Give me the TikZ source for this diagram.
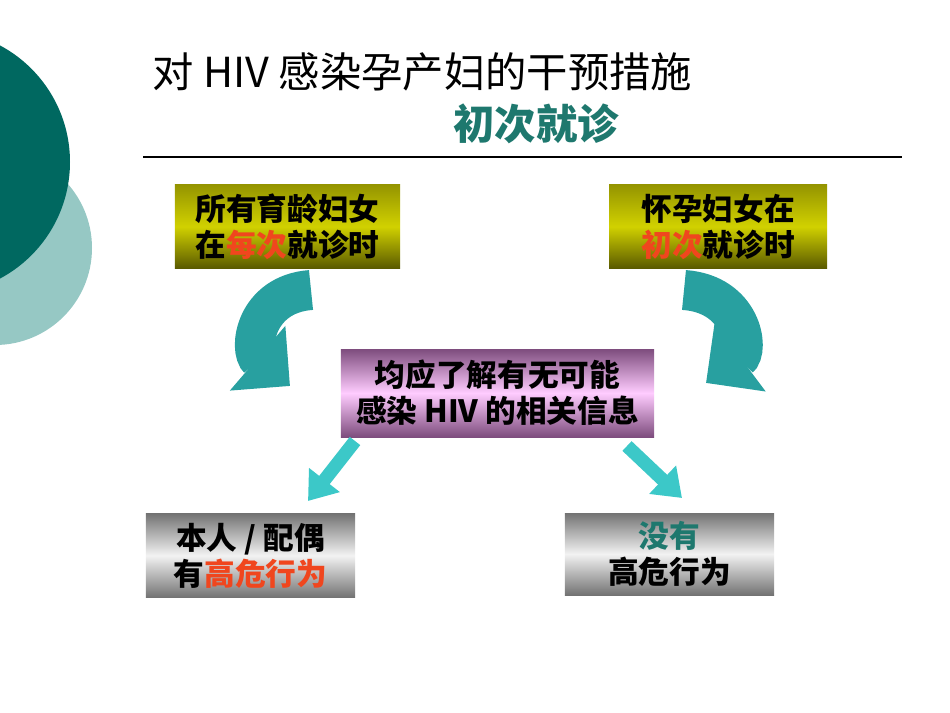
\documentclass[tikz,border=0pt]{standalone}
\usepackage{fontspec}
\setmainfont{Liberation Sans}
\newfontfamily\cjk{Noto Sans CJK SC}
\usetikzlibrary{arrows.meta}
\definecolor{darkteal}{RGB}{0,104,96}
\definecolor{lightteal}{RGB}{150,200,196}
\definecolor{headteal}{RGB}{30,120,110}
\definecolor{arrowcyan}{RGB}{60,200,200}
\definecolor{arrowdark}{RGB}{40,160,160}
\definecolor{hired}{RGB}{240,70,30}
\tikzset{every picture/.style={line width=0.75pt}}
\tikzset{
  box/.style={minimum width=#1, minimum height=63pt, inner sep=0pt, align=center,
    font=\cjk\bfseries\fontsize{23}{27}\selectfont},
  olivebox/.style={box=169pt, top color=olive!55!yellow!80!black, bottom color=olive!70!black, middle color=yellow!60!olive!90!white},
  pinkbox/.style={box=235pt, top color=violet!55!black!70, bottom color=violet!55!black!70, middle color=magenta!20!white},
  graybox/.style={box=157pt, top color=black!55, bottom color=black!55, middle color=white!95!black},
  curvearrow/.style={line width=30pt, arrowdark, -{Triangle[width=62pt,length=32pt]}},
  straight/.style={line width=10pt, arrowcyan, -{Triangle[width=28pt,length=20pt]}}
}
\begin{document}
\begin{tikzpicture}[x=0.75pt,y=0.75pt,yscale=-1,xscale=1]
	\useasboundingbox (0,0) rectangle (950,713);

	%left decoration
	\fill [lightteal] (-5,248) circle (97);
	\fill [darkteal] (-62,162) circle (132);

	%title
	\node [anchor=west, font=\cjk\fontsize{31}{34}\selectfont] (title) at (148,72) {对 HIV 感染孕产妇的干预措施};
	\node [font=\cjk\bfseries\fontsize{31}{34}\selectfont, text=headteal] (sub) at (536,124) {初次就诊};
	\draw [line width=0.8pt] (143,157) -- (902,157);

	%boxes
	\node [olivebox] (all) at (287.5,226.5) {所有育龄妇女\\在\textcolor{hired}{每次}就诊时};
	\node [olivebox, box=163.5pt] (preg) at (718,226.5) {怀孕妇女在\\\textcolor{hired}{初次}就诊时};
	\node [pinkbox, minimum height=66pt] (info) at (497.5,393) {均应了解有无可能\\感染 HIV 的相关信息};
	\node [graybox] (risk) at (250.5,555.5) {本人 / 配偶\\有\textcolor{hired}{高危行为}};
	\node [graybox, minimum height=61.5pt] (norisk) at (669.5,554) {\textcolor{headteal}{没有}\\高危行为};

	%arrows
	\coordinate (lt) at (311,290);
	\coordinate (rt) at (684,290);
	\draw [curvearrow] (lt) .. controls (255,294) and (248,350) .. (290,386);
	\draw [curvearrow] (rt) .. controls (742,294) and (750,350) .. (706,383);
	\draw [straight] (355,441) -- (308,501);
	\draw [straight] (627,446) -- (682,498);
\end{tikzpicture}
\end{document}
